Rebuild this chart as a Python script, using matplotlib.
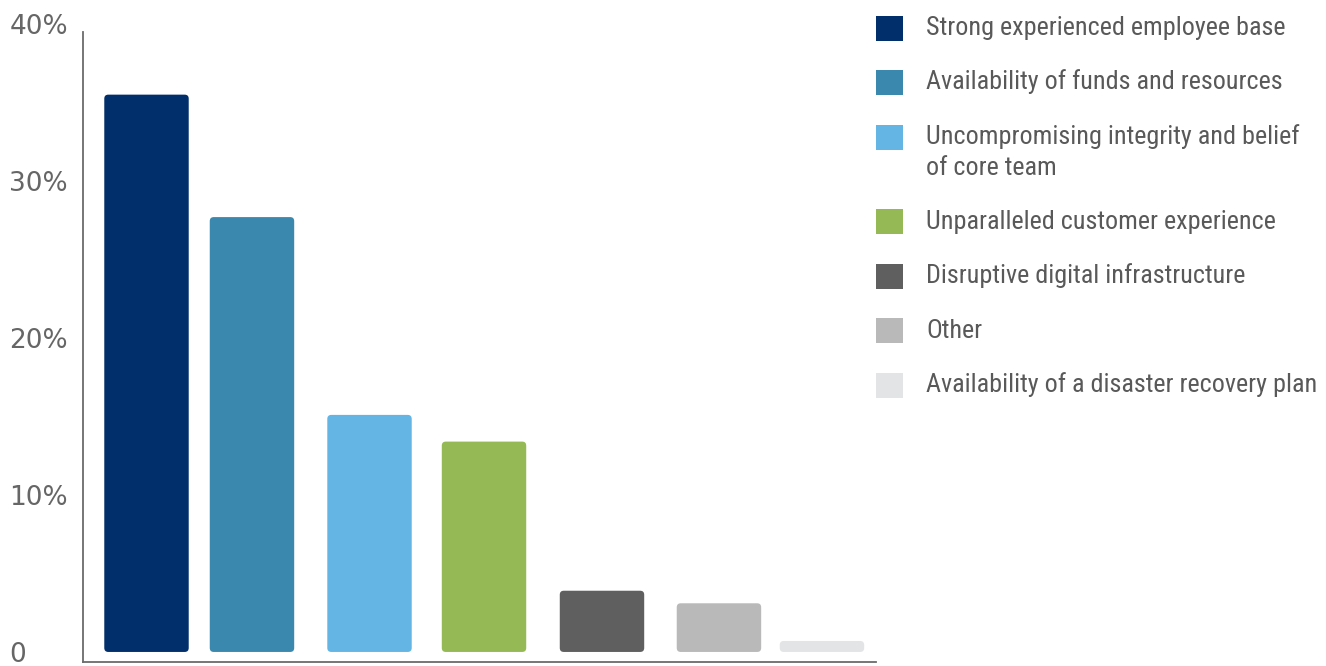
import matplotlib.pyplot as plt
from matplotlib.patches import FancyBboxPatch, Rectangle
from matplotlib import font_manager

# Share of respondents per success factor (%)
factors = [
    'Strong experienced employee base',
    'Availability of funds and resources',
    'Uncompromising integrity and belief\nof core team',
    'Unparalleled customer experience',
    'Disruptive digital infrastructure',
    'Other',
    'Availability of a disaster recovery plan',
]
shares = [35.5, 27.7, 15.1, 13.4, 3.9, 3.1, 0.7]
colors = ['#002f6b', '#3a88ad', '#64b5e4', '#95ba55', '#5f5f5f', '#b9b9b9', '#e3e4e6']
yticks = [0, 10, 20, 30, 40]
yticklabels = ['0', '10%', '20%', '30%', '40%']

# pick a narrow face for the legend if one is around
names = {f.name for f in font_manager.fontManager.ttflist}
narrow, stretch = 'DejaVu Sans', 'condensed'
for cand in ['Liberation Sans Narrow', 'Roboto Condensed', 'Open Sans Condensed']:
    if cand in names:
        narrow, stretch = cand, 'normal'
        break

W, H = 1326, 666
fig = plt.figure(figsize=(W / 100, H / 100), dpi=100)
ax = fig.add_axes([83 / W, 1 - 662 / H, (876 - 83) / W, (662 - 24) / H])

xpos = [0, 0.937, 1.981, 2.998, 4.046, 5.085, 6.0]
bars = ax.bar(xpos, shares, width=0.75, color=colors)
ax.set_xlim(-0.564, 6.48)
ax.set_ylim(-0.64, 40)

# swap the plain rectangles for slightly rounded ones
px_x = (876 - 83) / (6.48 + 0.564)
px_y = (662 - 24) / 40.64
for b, c in zip(bars, colors):
    b.set_visible(False)
    r = 4 / px_x
    ax.add_patch(FancyBboxPatch((b.get_x(), 0), b.get_width(), b.get_height(),
                                boxstyle=f'round,pad=0,rounding_size={r}',
                                mutation_aspect=px_x / px_y,
                                facecolor=c, edgecolor='none'))

for s in ['top', 'right']:
    ax.spines[s].set_visible(False)
for s in ['left', 'bottom']:
    ax.spines[s].set_color('#6b6b6b')
    ax.spines[s].set_linewidth(1.3)
ax.spines['left'].set_bounds(-0.64, 39.5)

ax.set_xticks([])
ax.set_yticks(yticks)
ax.set_yticklabels(yticklabels)
ax.tick_params(axis='y', length=0, pad=53, labelsize=19, labelcolor='#666666')
for t in ax.get_yticklabels():
    t.set_horizontalalignment('left')

# size the legend text so the longest label spans ~390 px
renderer = fig.canvas.get_renderer()
probe = fig.text(0, 0, factors[-1], fontsize=20, family=narrow, stretch=stretch)
wpx = probe.get_window_extent(renderer).width
probe.remove()
lsize = 20 * 390 / wpx

# legend drawn by hand on the right
y = 28
for name, c in zip(factors, colors):
    fig.add_artist(Rectangle((876 / W, 1 - (y + 12.5) / H), 27 / W, 25 / H,
                             transform=fig.transFigure, facecolor=c, edgecolor='none'))
    fig.text(926 / W, 1 - (y + 7) / H, name.split('\n')[0], ha='left', va='baseline',
             fontsize=lsize, color='#595959', family=narrow, stretch=stretch)
    if '\n' in name:
        fig.text(926 / W, 1 - (y + 38) / H, name.split('\n')[1], ha='left', va='baseline',
                 fontsize=lsize, color='#595959', family=narrow, stretch=stretch)
    y += 54.5 + 30 * name.count('\n')

fig.savefig('out.png', dpi=100)
